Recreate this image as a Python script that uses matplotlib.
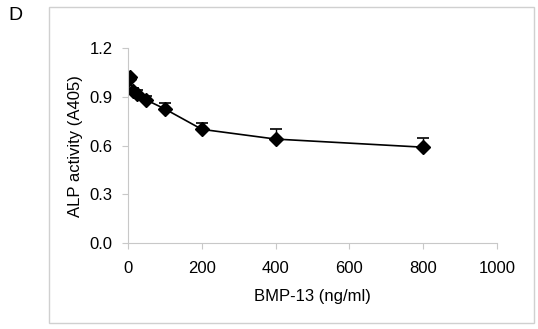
import matplotlib.pyplot as plt
from matplotlib.patches import Rectangle

plt.rcParams['font.family'] = ['Liberation Sans', 'DejaVu Sans']

dose = [3.125, 6.25, 12.5, 25, 50, 100, 200, 400, 800]
alp = [1.01, 1.02, 0.935, 0.92, 0.88, 0.825, 0.70, 0.64, 0.59]
err = [0.0, 0.0, 0.02, 0.02, 0.026, 0.035, 0.04, 0.06, 0.055]

fig = plt.figure(figsize=(5.38, 3.29), dpi=100)
ax = fig.add_axes([0.238, 0.261, 0.686, 0.593])

# outer frame around the plot area
fig.patches.append(Rectangle((49 / 538, 1 - 323 / 329), 485 / 538, 316 / 329,
                             transform=fig.transFigure, fill=False,
                             edgecolor='#d0d0d0', linewidth=1))

ax.errorbar(dose, alp, yerr=[[0] * len(err), err], fmt='none',
            ecolor='black', elinewidth=1, capsize=4, capthick=1.2)
ax.plot(dose, alp, color='black', linewidth=1.2, marker='D',
        markersize=7.5, markerfacecolor='black')

ax.set_xlim(0, 1000)
ax.set_ylim(0, 1.2)
ax.set_xticks([0, 200, 400, 600, 800, 1000])
ax.set_yticks([0.0, 0.3, 0.6, 0.9, 1.2])
ax.set_yticklabels(['0.0', '0.3', '0.6', '0.9', '1.2'])

for s in ['top', 'right']:
    ax.spines[s].set_visible(False)
for s in ['left', 'bottom']:
    ax.spines[s].set_color('#c8c8c8')
ax.tick_params(axis='both', direction='out', color='#c8c8c8', length=4,
               labelsize=12)
ax.tick_params(axis='x', pad=9)
ax.tick_params(axis='y', pad=7)

ax.set_xlabel('BMP-13 (ng/ml)', fontsize=12, labelpad=9)
ax.set_ylabel('ALP activity (A405)', fontsize=12, labelpad=5)

fig.text(8 / 538, 1 - 15 / 329, 'D', fontsize=14, va='center', ha='left')

fig.savefig('out.png', dpi=100)
